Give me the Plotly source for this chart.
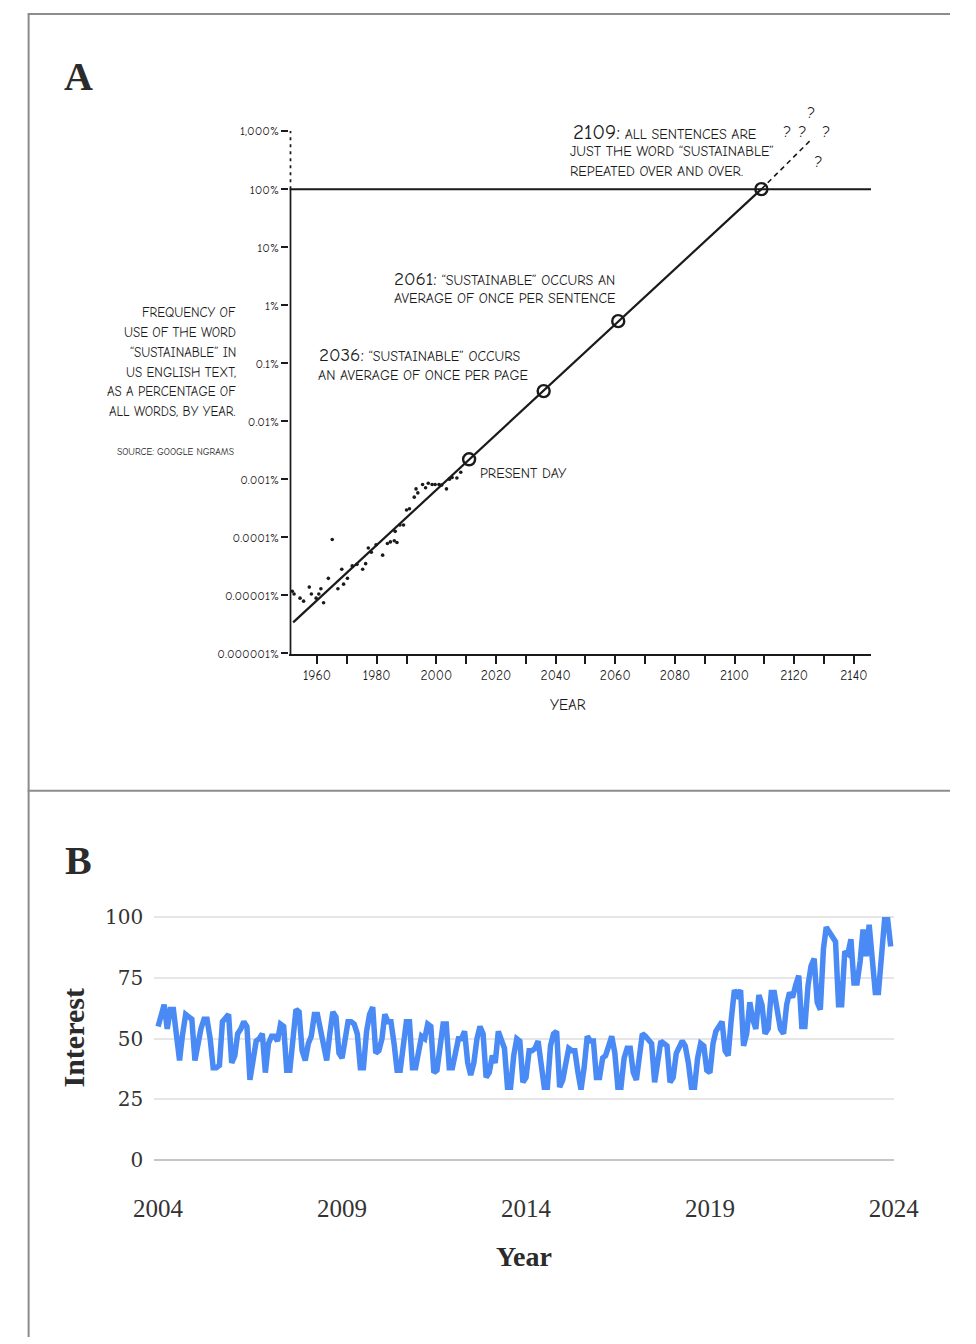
import plotly.graph_objects as go
import pandas as pd

W, H = 976, 1344


def fx(p):
    return p / W


def fy(p):
    return 1 - p / H


# ---------------- Panel A data (xkcd "Sustainable") ----------------
ngram_years = [1951.7, 1952.3, 1954.3, 1955.5, 1957.4, 1958.1, 1959.7, 1960.6, 1961.3, 1962.2,
               1963.8, 1965.1, 1967.0, 1968.3, 1968.9, 1970.2, 1971.8, 1973.4, 1975.3, 1976.3,
               1977.2, 1978.2, 1979.8, 1982.0, 1983.6, 1984.6, 1985.9, 1986.8, 1986.2, 1987.8,
               1989.0, 1990.0, 1991.0, 1992.6, 1993.2, 1993.8, 1995.4, 1996.4, 1997.3, 1998.6,
               1999.6, 2000.9, 2001.8, 2003.4, 2004.4, 2005.3, 2006.9, 2008.2]
ngram_pct = [1.17e-5, 1.05e-5, 8.9e-6, 7.9e-6, 1.38e-5, 1.05e-5, 8.9e-6, 1.05e-5, 1.29e-5, 7.4e-6,
             1.95e-5, 9.1e-5, 1.29e-5, 2.8e-5, 1.55e-5, 1.95e-5, 3.2e-5, 3.4e-5, 2.8e-5, 3.5e-5,
             6.5e-5, 5.5e-5, 7.4e-5, 4.9e-5, 7.8e-5, 8.3e-5, 8.7e-5, 8.1e-5, 1.26e-4, 1.62e-4,
             1.62e-4, 2.95e-4, 3.1e-4, 4.9e-4, 6.8e-4, 5.8e-4, 8.1e-4, 7.1e-4, 8.5e-4, 8.1e-4,
             8.1e-4, 8.1e-4, 7.9e-4, 6.8e-4, 1.0e-3, 1.07e-3, 1.05e-3, 1.32e-3]

trend_years = [1952, 2109]
trend_pct = [3.4e-6, 100]

milestone_years = [2011, 2036, 2061, 2109]
milestone_pct = [0.0022, 0.033, 0.53, 100]

extrap_years = [2109, 2126]
extrap_pct = [100, 740]

qm_years = [2117.7, 2122.8, 2125.7, 2130.8, 2128.2]
qm_pct = [940, 940, 1990, 940, 277]

a_ytick_vals = [1e-6, 1e-5, 1e-4, 1e-3, 1e-2, 1e-1, 1, 10, 100, 1000]
a_ytick_text = ["0.000001%", "0.00001%", "0.0001%", "0.001%", "0.01%", "0.1%",
                "1%", "10%", "100%", "1,000%"]
a_xtick_vals = [1960, 1970, 1980, 1990, 2000, 2010, 2020, 2030, 2040, 2050,
                2060, 2070, 2080, 2090, 2100, 2110, 2120, 2130, 2140]
a_xtick_text = ["1960", "", "1980", "", "2000", "", "2020", "", "2040", "",
                "2060", "", "2080", "", "2100", "", "2120", "", "2140"]

# ---------------- Panel B data (Google Trends, monthly 2004-2023) ----------------
interest = [
    55, 59, 64, 54, 62, 62, 50, 41, 52, 60, 59, 58,   # 2004
    41, 48, 54, 58, 58, 50, 38, 38, 39, 57, 59, 60,   # 2005
    40, 43, 52, 54, 57, 55, 33, 40, 49, 50, 52, 36,   # 2006
    48, 51, 51, 49, 56, 55, 37, 37, 50, 62, 61, 45,   # 2007
    41, 48, 51, 60, 60, 53, 45, 41, 52, 61, 59, 44,   # 2008
    42, 52, 57, 57, 56, 52, 38, 38, 53, 60, 63, 44,   # 2009
    45, 50, 60, 57, 57, 48, 37, 37, 47, 57, 57, 38,   # 2010
    38, 45, 51, 50, 56, 55, 36, 37, 47, 56, 56, 38,   # 2011
    38, 45, 50, 50, 53, 40, 35, 40, 50, 55, 52, 34,   # 2012
    36, 43, 40, 53, 49, 46, 30, 30, 43, 50, 49, 32,   # 2013
    34, 45, 45, 46, 49, 37, 30, 30, 47, 52, 53, 30,   # 2014
    33, 40, 46, 45, 45, 36, 29, 38, 51, 49, 49, 34,   # 2015
    34, 42, 43, 47, 51, 44, 30, 30, 42, 46, 46, 36,   # 2016
    33, 43, 52, 51, 49, 48, 32, 40, 49, 48, 47, 32,   # 2017
    34, 44, 47, 49, 47, 40, 30, 30, 42, 48, 47, 37,   # 2018
    36, 48, 53, 55, 57, 45, 43, 58, 70, 68, 70, 47,   # 2019
    52, 65, 58, 54, 68, 64, 52, 54, 69, 69, 60, 54,   # 2020
    52, 64, 69, 67, 72, 76, 55, 55, 72, 80, 83, 65,   # 2021
    62, 87, 96, 94, 93, 90, 64, 64, 86, 85, 91, 73,   # 2022
    73, 82, 95, 84, 97, 80, 69, 69, 85, 99, 99, 88,   # 2023
]
months = pd.date_range("2004-01-01", periods=len(interest), freq="MS")
b_xtick_years = ["2004", "2009", "2014", "2019", "2024"]
b_ytick_vals = [0, 25, 50, 75, 100]

# ---------------- styling constants ----------------
XK = "Humor Sans, xkcd Script, Comic Neue, Noto Sans, sans-serif"
SERIF = "Liberation Serif, DejaVu Serif, serif"
INK = "#1a1a1a"

A_AXIS_YEAR = 1951.06           # where the hand-drawn y axis sits
PX_PER_YEAR = 3.133
A_X_RANGE = [A_AXIS_YEAR - 1 / PX_PER_YEAR, A_AXIS_YEAR + 610 / PX_PER_YEAR]
A_Y_RANGE = [-6.017, 3.519]     # log10 of percent

fig = go.Figure()

fig.add_trace(go.Scatter(x=[A_AXIS_YEAR, A_AXIS_YEAR], y=[10 ** A_Y_RANGE[0], 100],
                         mode="lines", line=dict(color=INK, width=2),
                         xaxis="x", yaxis="y", hoverinfo="skip"))
fig.add_trace(go.Scatter(x=[A_AXIS_YEAR, A_AXIS_YEAR], y=[100, 1000],
                         mode="lines", line=dict(color=INK, width=2, dash="3px,4px"),
                         xaxis="x", yaxis="y", hoverinfo="skip"))
fig.add_trace(go.Scatter(x=[A_X_RANGE[0], A_X_RANGE[1]], y=[100, 100],
                         mode="lines", line=dict(color=INK, width=2),
                         xaxis="x", yaxis="y", hoverinfo="skip"))
fig.add_trace(go.Scatter(x=trend_years, y=trend_pct, mode="lines",
                         line=dict(color=INK, width=2.2),
                         xaxis="x", yaxis="y", hoverinfo="skip"))
fig.add_trace(go.Scatter(x=extrap_years, y=extrap_pct, mode="lines",
                         line=dict(color=INK, width=1.6, dash="5px,4px"),
                         xaxis="x", yaxis="y", hoverinfo="skip"))
fig.add_trace(go.Scatter(x=ngram_years, y=ngram_pct, mode="markers",
                         marker=dict(color=INK, size=3.6),
                         xaxis="x", yaxis="y", hoverinfo="skip"))
fig.add_trace(go.Scatter(x=milestone_years, y=milestone_pct, mode="markers",
                         marker=dict(symbol="circle-open", size=12, color=INK,
                                     line=dict(color=INK, width=2.4)),
                         xaxis="x", yaxis="y", hoverinfo="skip"))
fig.add_trace(go.Scatter(x=qm_years, y=qm_pct, mode="text", text=["?"] * len(qm_years),
                         textfont=dict(family=XK, size=16, color=INK),
                         xaxis="x", yaxis="y", hoverinfo="skip"))

fig.add_trace(go.Scatter(x=months, y=interest, mode="lines",
                         line=dict(color="#4a8af4", width=5.5),
                         xaxis="x2", yaxis="y2", hoverinfo="skip"))


def ann(text, x, y, size, xanchor="left", family=XK, color=INK, weight="normal", angle=0):
    return dict(text=text, x=fx(x), y=fy(y), xref="paper", yref="paper",
                xanchor=xanchor, yanchor="middle", showarrow=False, textangle=angle,
                font=dict(family=family, size=size, color=color, weight=weight))


annotations = [
    ann("<span style='font-size:21px'>2109:</span> ALL SENTENCES ARE", 578, 126, 14),
    ann("JUST THE WORD “SUSTAINABLE”", 575, 146, 14),
    ann("REPEATED OVER AND OVER.", 575, 166, 14),
    ann("<span style='font-size:19px'>2061:</span> “SUSTAINABLE” OCCURS AN", 390, 275, 14),
    ann("AVERAGE OF ONCE PER SENTENCE", 390, 295, 14),
    ann("<span style='font-size:19px'>2036:</span> “SUSTAINABLE” OCCURS", 311, 352, 14),
    ann("AN AVERAGE OF ONCE PER PAGE", 310, 372, 14),
    ann("PRESENT DAY", 480, 471, 14),
    ann("YEAR", 575, 705, 15, xanchor="center"),
    ann("SOURCE: GOOGLE NGRAMS", 226, 449, 9.5, xanchor="right"),
    ann("A", 60, 70, 40, xanchor="center", family=SERIF, color="#2b2b2b", weight="bold"),
    ann("B", 60, 862, 40, xanchor="center", family=SERIF, color="#2b2b2b", weight="bold"),
    ann("Interest", 55, 1042, 30, xanchor="center", family=SERIF, color="#2b2b2b",
        weight="bold", angle=-90),
    ann("Year", 528, 1263, 28, xanchor="center", family=SERIF, color="#2b2b2b", weight="bold"),
]
ylabel_lines = ["FREQUENCY OF", "USE OF THE WORD", "“SUSTAINABLE” IN",
                "US ENGLISH TEXT,", "AS A PERCENTAGE OF", "ALL WORDS, BY YEAR."]
for i, line in enumerate(ylabel_lines):
    annotations.append(ann(line, 228, 309 + 20 * i, 13, xanchor="right"))

frame = dict(color="#8c8c8c", width=2)
shapes = [
    dict(type="line", xref="paper", yref="paper", x0=fx(8), x1=fx(8), y0=fy(7), y1=0, line=frame),
    dict(type="line", xref="paper", yref="paper", x0=fx(7), x1=1, y0=fy(7), y1=fy(7), line=frame),
    dict(type="line", xref="paper", yref="paper", x0=fx(7), x1=1, y0=fy(792), y1=fy(792), line=frame),
]

fig.update_layout(
    width=W, height=H, autosize=False,
    margin=dict(l=0, r=0, t=0, b=0, pad=0),
    paper_bgcolor="white", plot_bgcolor="white",
    showlegend=False,
    annotations=annotations,
    shapes=shapes,
    xaxis=dict(domain=[fx(282), fx(893)], range=A_X_RANGE, anchor="y",
               showline=True, linecolor=INK, linewidth=2,
               ticks="outside", ticklen=8, tickwidth=2, tickcolor=INK,
               tickvals=a_xtick_vals, ticktext=a_xtick_text,
               tickfont=dict(family=XK, size=13.5, color=INK),
               showgrid=False, zeroline=False),
    yaxis=dict(domain=[fy(654), fy(95)], type="log", range=A_Y_RANGE, anchor="x",
               showline=False, ticks="outside", ticklen=7, tickwidth=2, tickcolor=INK,
               tickvals=a_ytick_vals, ticktext=a_ytick_text,
               tickfont=dict(family=XK, size=12.5, color=INK),
               showgrid=False, zeroline=False),
    xaxis2=dict(domain=[fx(140), fx(917)], type="date", range=["2003-11-24", "2024-01-01"],
                anchor="y2", showgrid=False, zeroline=False, showline=False, ticks="",
                tickvals=[f"{y}-01-01" for y in b_xtick_years], ticktext=b_xtick_years,
                tickfont=dict(family=SERIF, size=25, color="#333333"),
                ticklabelstandoff=26),
    yaxis2=dict(domain=[fy(1169.9), fy(915.1)], range=[-2, 102], anchor="x2",
                tickvals=b_ytick_vals, showgrid=True, gridcolor="#e6e6e6", gridwidth=2,
                zeroline=True, zerolinecolor="#c6c6c6", zerolinewidth=2, showline=False,
                ticks="", tickfont=dict(family="DejaVu Serif, serif", size=20, color="#333333"),
                ticklabelstandoff=10),
)

fig.write_html("out.html", config={"displayModeBar": False},
               post_script="document.body.style.margin='0';document.body.style.overflow='hidden';")
